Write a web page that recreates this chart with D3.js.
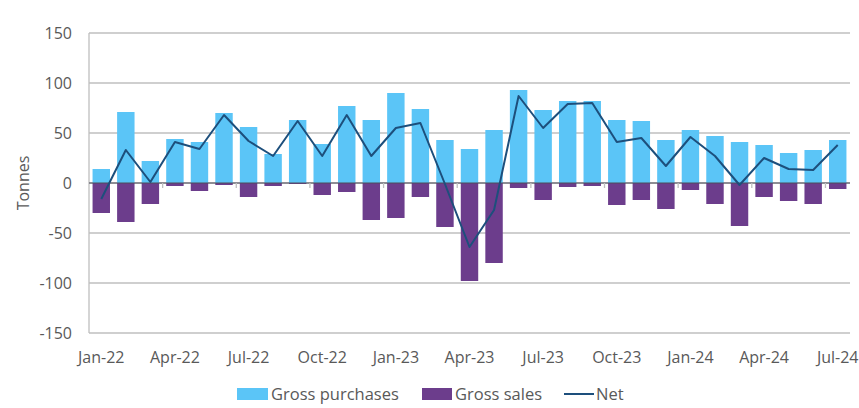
<!DOCTYPE html>
<html>
<head>
<meta charset="utf-8">
<script src="https://cdn.jsdelivr.net/npm/d3@7/dist/d3.min.js"></script>
<style>
  html, body { margin: 0; padding: 0; background: #ffffff; }
  svg { display: block; font-family: "Open Sans", "Noto Sans", sans-serif; }
</style>
</head>
<body>
<svg id="chart" width="859" height="408"></svg>
<script>
const months = ["Jan-22","Feb-22","Mar-22","Apr-22","May-22","Jun-22","Jul-22","Aug-22","Sep-22","Oct-22","Nov-22","Dec-22",
                "Jan-23","Feb-23","Mar-23","Apr-23","May-23","Jun-23","Jul-23","Aug-23","Sep-23","Oct-23","Nov-23","Dec-23",
                "Jan-24","Feb-24","Mar-24","Apr-24","May-24","Jun-24","Jul-24"];
const grossPurchases = [14, 71, 22, 44, 41, 70, 56, 29, 63, 39, 77, 63,
                        90, 74, 43, 34, 53, 93, 73, 82, 82, 63, 62, 43,
                        53, 47, 41, 38, 30, 33, 43];
const grossSales = [-30, -39, -21, -3, -8, -2, -14, -3, -1, -12, -9, -37,
                    -35, -14, -44, -98, -80, -5, -17, -4, -3, -22, -17, -26,
                    -7, -21, -43, -14, -18, -21, -6];
const net = [-16, 33, 1, 41, 34, 68, 42, 27, 62, 27, 68, 27,
             55, 60, -1, -64, -27, 87, 55, 79, 80, 41, 45, 17,
             46, 27, -2, 25, 14, 13, 38];
const tickLabels = ["Jan-22","Apr-22","Jul-22","Oct-22","Jan-23","Apr-23","Jul-23","Oct-23","Jan-24","Apr-24","Jul-24"];
const yTicks = [-150, -100, -50, 0, 50, 100, 150];
const seriesNames = ["Gross purchases", "Gross sales", "Net"];

const colors = { purchases: "#5bc5f7", sales: "#6c3d8c", net: "#1d4f7c" };

const svg = d3.select("#chart");
const margin = { left: 89, right: 9, top: 33, bottom: 75 };
const W = 859, H = 408;

const x = d3.scaleBand().domain(months).range([margin.left, W - margin.right]).paddingInner(0.29).paddingOuter(0.145);
const y = d3.scaleLinear().domain([-150, 150]).range([H - margin.bottom, margin.top]);

// gridlines
svg.append("g").selectAll("line").data(yTicks).join("line")
  .attr("x1", margin.left).attr("x2", W - margin.right)
  .attr("y1", d => y(d)).attr("y2", d => y(d))
  .attr("stroke", "#bfbfbf").attr("stroke-width", 1.3);

// y axis line
svg.append("line").attr("x1", margin.left).attr("x2", margin.left)
  .attr("y1", y(150)).attr("y2", y(-150)).attr("stroke", "#bfbfbf").attr("stroke-width", 1.3);

// y labels
svg.append("g").selectAll("text").data(yTicks).join("text")
  .attr("x", 72).attr("y", d => y(d)).attr("dy", "0.35em")
  .attr("text-anchor", "end").attr("font-size", 16).attr("fill", "#595959")
  .text(d => d);

svg.append("text").attr("transform", `translate(29,${y(0)}) rotate(-90)`)
  .attr("text-anchor", "middle").attr("font-size", 16).attr("fill", "#595959").text("Tonnes");

// bars
svg.append("g").selectAll("rect").data(months).join("rect")
  .attr("x", d => x(d)).attr("width", x.bandwidth())
  .attr("y", (d, i) => y(grossPurchases[i])).attr("height", (d, i) => y(0) - y(grossPurchases[i]))
  .attr("fill", colors.purchases);
svg.append("g").selectAll("rect").data(months).join("rect")
  .attr("x", d => x(d)).attr("width", x.bandwidth())
  .attr("y", y(0)).attr("height", (d, i) => y(grossSales[i]) - y(0))
  .attr("fill", colors.sales);

// zero axis line
svg.append("line").attr("x1", margin.left).attr("x2", W - margin.right)
  .attr("y1", y(0)).attr("y2", y(0)).attr("stroke", "#4d4d5a").attr("stroke-width", 1);

// quarter tick marks at band boundaries
const step = x.step();
const tickIdx = d3.range(3, months.length, 3);
svg.append("g").selectAll("line").data(tickIdx).join("line")
  .attr("x1", i => x(months[i]) - (step - x.bandwidth()) / 2)
  .attr("x2", i => x(months[i]) - (step - x.bandwidth()) / 2)
  .attr("y1", y(0)).attr("y2", y(0) + 5)
  .attr("stroke", "#bfbfbf").attr("stroke-width", 1.3);

// net line
const line = d3.line().x((d, i) => x(months[i]) + x.bandwidth() / 2).y(d => y(d));
svg.append("path").datum(net).attr("d", line)
  .attr("fill", "none").attr("stroke", colors.net).attr("stroke-width", 2).attr("stroke-linejoin", "round");

// x labels
svg.append("g").selectAll("text").data(tickLabels).join("text")
  .attr("x", d => x(d) + x.bandwidth() / 2).attr("y", 357.5).attr("dy", "0.35em")
  .attr("text-anchor", "middle").attr("font-size", 16).attr("fill", "#595959")
  .text(d => d);

// legend
const lg = svg.append("g").attr("font-size", 16.5).attr("fill", "#595959");
lg.append("rect").attr("x", 237).attr("y", 388).attr("width", 31).attr("height", 12).attr("fill", colors.purchases);
lg.append("text").attr("x", 271).attr("y", 394).attr("dy", "0.35em").text(seriesNames[0]);
lg.append("rect").attr("x", 422).attr("y", 388).attr("width", 30).attr("height", 12).attr("fill", colors.sales);
lg.append("text").attr("x", 455).attr("y", 394).attr("dy", "0.35em").text(seriesNames[1]);
lg.append("line").attr("x1", 564).attr("x2", 594).attr("y1", 394).attr("y2", 394).attr("stroke", colors.net).attr("stroke-width", 2);
lg.append("text").attr("x", 596).attr("y", 394).attr("dy", "0.35em").text(seriesNames[2]);
</script>
</body>
</html>
